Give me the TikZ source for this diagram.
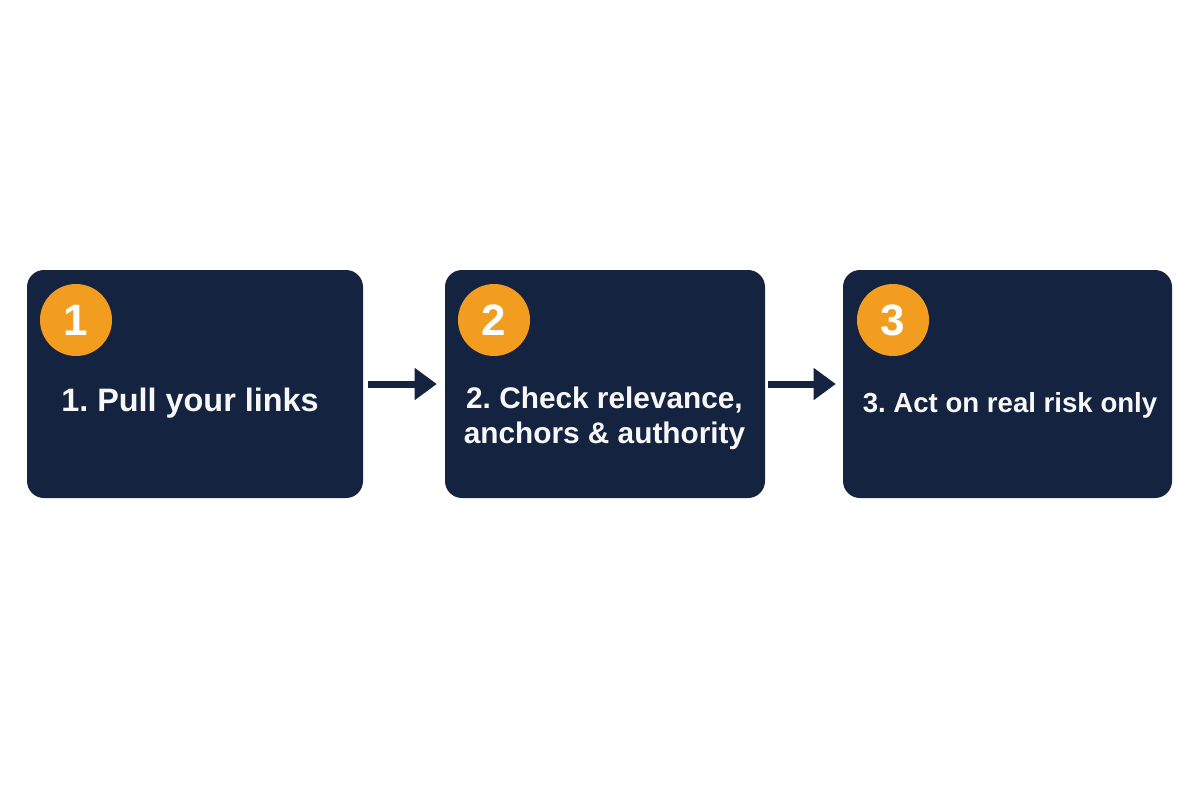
\documentclass[tikz,border=0pt]{standalone}
\usepackage{fontspec}
\setmainfont{Liberation Sans}
\usetikzlibrary{arrows.meta}
\definecolor{navy}{HTML}{14233F}
\definecolor{badge}{HTML}{F29D1F}
\definecolor{txt}{HTML}{F7F7F7}
\frenchspacing
\begin{document}
\begin{tikzpicture}[x=0.5pt,y=-0.5pt,
  stepbox/.style={fill=navy, draw=none, rounded corners=8.5pt, minimum height=114pt, inner sep=0pt},
  numbadge/.style={circle, fill=badge, draw=none, minimum size=36pt, inner sep=0pt, text=white, font=\bfseries\fontsize{22}{22}\selectfont},
  steptext/.style={text=txt, inner sep=0pt, align=center, font=\bfseries\fontsize{#1}{17.5}\selectfont},
  flowarrow/.style={draw=navy, fill=navy, line width=3.5pt, line join=round, -{Triangle[length=11pt,width=16pt,line width=1pt]}}]
\useasboundingbox (0,0) rectangle (1200,800);
\fill[white] (0,0) rectangle (1200,800);
\node[stepbox, minimum width=168pt] (b1) at (195,384) {};
\node[stepbox, minimum width=160pt] (b2) at (605,384) {};
\node[stepbox, minimum width=164.5pt] (b3) at (1007.5,384) {};
\node[numbadge] (n1) at (76,320) {1};
\node[numbadge] (n2) at (494,320) {2};
\node[numbadge] (n3) at (893,320) {3};
\node[steptext=16.2, anchor=base] (t1) at (190,411) {\frenchspacing 1. Pull your links};
\node[steptext=14.9, anchor=base] (t2a) at (604.5,408) {\frenchspacing 2. Check relevance,};
\node[steptext=14.9, anchor=base] (t2b) at (604.5,443) {anchors \& authority};
\node[steptext=13.8, anchor=base] (t3) at (1010,412) {\frenchspacing 3. Act on real risk only};
\draw[flowarrow, shorten <=2.5pt, shorten >=4pt] (b1.east) -- (b2.west);
\draw[flowarrow, shorten <=1.5pt, shorten >=3.5pt] (b2.east) -- (b3.west);
\end{tikzpicture}
\end{document}
